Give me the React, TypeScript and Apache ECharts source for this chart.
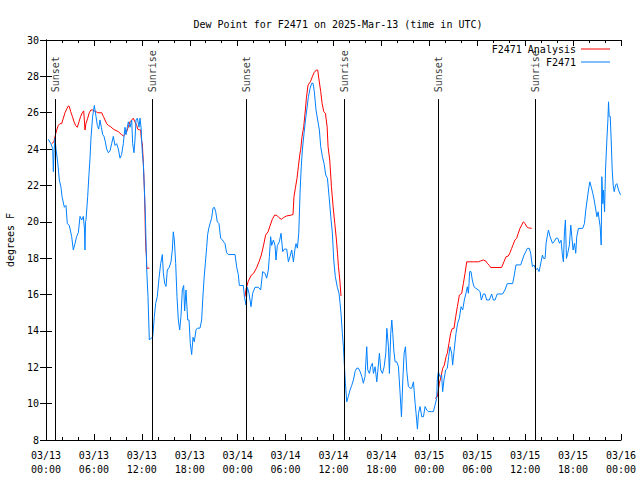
import React, { useEffect, useRef } from "react";
import * as echarts from "echarts";

// Hours since 03/13 00:00 UTC
const obsTimes = [
  0.29, 0.6, 0.84, 0.92, 1.0, 1.13, 1.25, 1.46, 1.67, 1.88, 2.0, 2.3, 2.5, 2.67, 2.92, 3.21, 3.42, 3.63, 3.84, 4.05,
  4.26, 4.47, 4.67, 4.82, 4.88, 4.95, 5.01, 5.22, 5.38, 5.51, 5.63, 5.84, 6.05, 6.26, 6.43, 6.6, 6.76, 6.93, 7.1, 7.26,
  7.43, 7.6, 7.81, 8.01, 8.22, 8.43, 8.64, 8.85, 9.06, 9.27, 9.47, 9.68, 9.89, 10.02, 10.18, 10.31, 10.52, 10.73, 10.85, 11.02,
  11.14, 11.27, 11.44, 11.65, 11.77, 11.9, 12.06, 12.19, 12.31, 12.44, 12.61, 12.77, 12.94, 13.15, 13.36, 13.57, 13.73, 13.94, 14.15, 14.36,
  14.57, 14.69, 14.86, 15.03, 15.19, 15.44, 15.65, 15.82, 15.94, 16.07, 16.24, 16.4, 16.57, 16.74, 16.9, 17.07, 17.24, 17.36, 17.53, 17.74,
  17.91, 18.07, 18.24, 18.41, 18.57, 18.78, 18.95, 19.28, 19.49, 19.62, 19.78, 19.95, 20.12, 20.24, 20.41, 20.54, 20.74, 20.91, 21.08, 21.25,
  21.45, 21.66, 21.87, 22.08, 22.41, 22.62, 22.83, 23.67, 23.88, 24.08, 24.21, 24.71, 24.84, 25.04, 25.21, 25.42, 25.67, 25.88, 26.17, 26.59,
  26.88, 27.13, 27.42, 27.63, 27.84, 27.97, 28.13, 28.26, 28.47, 28.68, 28.8, 28.97, 29.22, 29.43, 29.64, 29.85, 30.14, 30.35, 30.56, 30.77,
  30.98, 31.19, 31.31, 31.48, 31.65, 31.81, 31.94, 32.1, 32.31, 32.52, 32.65, 32.86, 33.07, 33.27, 33.44, 33.6, 33.81, 34.02, 34.23, 34.4,
  34.61, 34.82, 35.03, 35.24, 35.45, 35.66, 35.86, 36.03, 36.23, 36.48, 36.69, 36.82, 36.94, 37.11, 37.24, 37.36, 37.49, 37.66, 37.86, 38.07,
  38.28, 38.49, 38.7, 38.91, 39.12, 39.33, 39.54, 39.74, 39.95, 40.16, 40.29, 40.5, 40.66, 40.87, 41.0, 41.21, 41.42, 41.54, 41.75, 41.92,
  42.13, 42.34, 42.55, 42.68, 42.88, 43.0, 43.17, 43.3, 43.42, 43.55, 43.71, 43.92, 44.13, 44.34, 44.51, 44.68, 44.84, 45.01, 45.18, 45.38,
  45.59, 45.8, 46.01, 46.22, 46.34, 46.51, 46.64, 46.84, 47.05, 47.26, 47.47, 47.68, 47.88, 48.3, 48.51, 48.72, 48.92, 49.0, 49.13, 49.33,
  49.54, 49.67, 49.83, 50.04, 50.25, 50.42, 50.59, 50.8, 50.92, 51.09, 51.34, 51.55, 51.76, 51.97, 52.18, 52.38, 52.59, 52.76, 52.89, 52.97,
  53.05, 53.22, 53.38, 53.59, 53.8, 54.14, 54.35, 54.51, 54.76, 54.97, 55.18, 55.51, 55.8, 56.01, 56.22, 56.5, 57.17, 57.47, 57.76, 58.43,
  58.64, 58.85, 59.44, 59.65, 59.86, 60.07, 60.27, 60.52, 60.69, 60.9, 61.11, 61.32, 61.53, 61.74, 61.99, 62.16, 62.29, 62.5, 62.62, 62.79,
  62.92, 63.12, 63.42, 63.62, 63.87, 64.08, 64.29, 64.5, 64.66, 64.79, 64.92, 65.04, 65.17, 65.33, 65.54, 65.71, 65.84, 66.0, 66.17, 66.33,
  66.46, 66.67, 67.21, 67.42, 67.59, 67.76, 67.93, 68.1, 68.26, 68.47, 68.64, 68.85, 68.98, 69.14, 69.27, 69.39, 69.52, 69.6, 69.73, 69.81,
  69.94, 70.06, 70.23, 70.36, 70.44, 70.52, 70.65, 70.77, 70.9, 71.02, 71.15, 71.32, 71.48, 71.69, 71.94,
];
const obsValues = [
  24.54, 24.3, 24.04, 22.76, 23.8, 24.6, 24.0, 23.3, 22.3, 21.9, 21.4, 20.8, 20.9, 19.9, 19.8, 19.2, 18.45, 18.8, 19.2, 19.4,
  20.3, 20.1, 20.3, 19.6, 18.45, 20.0, 20.1, 21.4, 22.6, 23.5, 24.6, 25.8, 26.4, 25.8, 25.3, 25.1, 25.6, 25.2, 24.8, 24.7,
  24.4, 24.0, 23.8, 23.9, 24.3, 24.7, 24.2, 24.3, 24.0, 23.5, 23.7, 24.3, 25.2, 24.8, 25.2, 25.5, 25.2, 25.6, 24.3, 23.8,
  24.5, 25.6, 25.7, 25.2, 25.7, 25.2, 23.8, 23.2, 21.9, 20.4, 17.35, 15.9, 13.5, 13.6, 13.65, 14.8, 15.5, 15.9, 16.9, 17.7,
  18.2, 17.2, 16.6, 16.45, 17.35, 17.5, 17.8, 18.45, 19.45, 19.0, 17.7, 15.9, 14.6, 14.05, 14.8, 16.25, 16.5, 15.1, 16.25, 14.6,
  14.6, 13.3, 12.7, 13.65, 13.4, 14.05, 14.15, 14.15, 14.6, 15.7, 16.8, 17.7, 18.6, 19.3, 19.7, 19.9, 20.2, 20.75, 20.8, 20.55,
  20.0, 19.9, 19.1, 19.0, 18.8, 18.3, 18.2, 18.2, 17.5, 17.1, 16.5, 16.5, 15.9, 15.42, 16.4, 16.07, 15.33, 16.07, 16.4, 16.4,
  16.25, 17.26, 17.17, 16.9, 17.35, 18.08, 19.18, 18.7, 19.0, 18.7, 17.9, 18.7, 18.9, 19.37, 18.36, 18.5, 18.5, 17.8, 18.1, 18.45,
  17.8, 18.55, 18.8, 18.55, 19.37, 21.57, 22.85, 23.95, 24.87, 25.7, 26.15, 26.88, 27.34, 27.62, 27.62, 27.16, 26.15, 25.6, 25.05, 24.13,
  23.58, 23.2, 22.57, 22.4, 21.38, 20.28, 19.37, 17.9, 16.98, 16.4, 16.07, 15.52, 14.97, 13.87, 13.13, 12.12, 11.12, 10.1, 10.4, 10.75,
  11.0, 11.3, 11.76, 11.95, 11.95, 11.76, 11.5, 11.12, 11.5, 13.13, 11.85, 11.66, 12.03, 12.22, 11.66, 12.03, 11.2, 11.76, 12.77, 11.85,
  11.66, 12.03, 12.77, 14.14, 13.13, 11.66, 13.87, 14.6, 13.87, 12.95, 12.3, 12.3, 12.03, 10.57, 9.28, 11.3, 12.77, 13.13, 11.76, 10.94,
  10.85, 10.85, 11.2, 10.02, 9.47, 8.6, 9.47, 9.84, 9.28, 9.28, 9.84, 9.65, 9.56, 9.56, 9.56, 9.93, 10.29, 11.3, 11.76, 11.48,
  11.57, 10.66, 11.3, 11.85, 11.94, 12.58, 13.13, 12.77, 12.12, 12.86, 13.87, 14.42, 14.7, 15.33, 15.15, 15.7, 16.07, 16.43, 16.07, 16.6,
  17.26, 17.26, 16.8, 16.43, 16.35, 16.25, 16.16, 15.7, 16.03, 16.03, 15.7, 15.7, 16.03, 15.7, 15.7, 16.03, 16.03, 16.25, 16.6, 16.6,
  17.07, 17.63, 17.63, 17.9, 18.17, 18.35, 18.54, 18.54, 18.27, 17.54, 17.63, 17.35, 17.45, 17.26, 17.8, 18.17, 17.99, 17.99, 18.82, 19.27,
  19.55, 19.18, 18.82, 18.9, 19.1, 19.1, 18.82, 18.99, 18.17, 17.8, 19.45, 20.1, 17.99, 18.27, 18.73, 19.82, 19.18, 18.45, 18.82, 18.27,
  19.18, 19.64, 19.64, 19.91, 20.65, 21.2, 21.75, 22.2, 21.94, 21.57, 21.2, 20.65, 20.28, 20.55, 20.1, 19.73, 18.73, 22.48, 21.0, 21.75,
  20.55, 22.85, 24.5, 25.6, 26.6, 25.8, 25.8, 24.5, 22.85, 22.02, 21.66, 22.02, 22.1, 21.75, 21.48,
];

// Analysis: three nightly runs, separated by gaps (null)
const anaTimes = [
  0.71, 0.99, 1.13, 1.34, 1.54, 1.75, 1.96, 2.17, 2.38, 2.59, 2.8, 2.92, 3.09, 3.3, 3.51, 3.71, 3.92, 4.13, 4.34, 4.55,
  4.72, 4.8, 4.88, 5.0, 5.22, 5.42, 5.63, 5.84, 6.05, 6.26, 6.47, 6.76, 6.97, 7.18, 7.39, 7.6, 7.81, 8.1, 8.43, 8.76,
  9.06, 9.27, 9.47, 9.68, 9.89, 10.1, 10.31, 10.52, 10.73, 10.93, 11.14, 11.35, 11.48, 11.69, 11.85, 11.98, 12.06, 12.19, 12.31, 12.4,
  12.44, 12.5, 12.58, 12.62, 12.94,
  18,
  24.92, 25.05, 25.3, 25.71, 26.0, 26.34, 26.67, 26.96, 27.25, 27.5, 27.8, 28.09, 28.34, 28.63, 28.92, 29.17, 29.46, 29.75, 30.09, 30.72,
  30.93, 31.05, 31.22, 31.43, 31.6, 31.77, 31.89, 32.06, 32.27, 32.48, 32.6, 32.81, 33.1, 33.35, 33.56, 33.85, 34.02, 34.19, 34.4, 34.57,
  34.78, 34.99, 35.2, 35.32, 35.53, 35.74, 35.95, 36.16, 36.37, 36.5, 36.62, 36.79, 36.94,
  42,
  48.72, 49.0, 49.25, 49.46, 49.67, 49.88, 50.09, 50.25, 50.46, 50.67, 50.88, 51.09, 51.3, 51.51, 51.76, 52.05, 52.26, 52.47, 52.68, 53.51,
  54.14, 54.43, 54.76, 55.05, 55.26, 55.51, 55.68, 57.05, 57.34, 57.6, 57.89, 58.1, 58.31, 58.51, 58.72, 58.93, 59.14, 59.35, 59.56, 59.77,
  59.98, 60.19, 60.4, 60.82,
];
const anaValues: (number | null)[] = [
  24.3, 24.4, 24.7, 25.05, 25.3, 25.4, 25.4, 25.7, 26.0, 26.2, 26.37, 26.35, 26.06, 25.8, 25.5, 25.3, 25.2, 25.5, 25.8, 26.0,
  26.1, 25.6, 25.05, 25.4, 25.7, 26.0, 26.15, 26.15, 26.1, 26.06, 26.0, 26.0, 26.0, 25.8, 25.6, 25.4, 25.3, 25.23, 25.1, 25.02,
  24.96, 24.87, 24.8, 24.72, 24.8, 24.96, 25.23, 25.5, 25.6, 25.7, 25.5, 25.3, 25.1, 25.06, 25.05, 24.4, 24.3, 23.2, 21.9, 20.5,
  19.4, 18.6, 18.1, 17.45, 17.45,
  null,
  15.88, 16.3, 16.7, 17.07, 17.17, 17.44, 17.8, 18.17, 18.72, 19.27, 19.45, 19.82, 20.14, 20.37, 20.35, 20.23, 20.14, 20.23, 20.32, 20.37,
  20.4, 21.38, 21.84, 22.39, 23.03, 23.67, 23.97, 24.68, 25.23, 26.15, 26.79, 27.52, 27.7, 27.98, 28.2, 28.35, 28.35, 27.8, 27.16, 26.52,
  26.06, 25.97, 25.23, 24.13, 23.4, 21.94, 20.84, 19.92, 19.0, 18.27, 17.54, 16.8, 15.92,
  null,
  10.29, 10.38, 11.11, 11.48, 11.94, 12.12, 12.58, 12.77, 13.32, 13.87, 14.14, 14.14, 14.78, 15.33, 15.97, 16.06, 16.6, 17.17, 17.8, 17.8,
  17.8, 17.85, 17.9, 17.85, 17.72, 17.6, 17.49, 17.49, 17.8, 18.08, 18.12, 18.3, 18.54, 18.77, 19.0, 19.09, 19.37, 19.64, 19.82, 20.0,
  19.91, 19.73, 19.67, 19.64,
];

const eventTimes = [1.165, 13.31, 25.08, 37.36, 49.13, 61.27];
const eventLabels = ["Sunset", "Sunrise", "Sunset", "Sunrise", "Sunset", "Sunrise"];

const seriesNames = ["F2471 Analysis", "F2471"];
const titleText = "Dew Point for F2471 on 2025-Mar-13 (time in UTC)";
const yName = "degrees F";
const month = "03";
const startDay = 13;

const Y_MIN = 8;
const Y_MAX = 30;
const LINE_TOP = 26.75;
const LABEL_BASE = 27.12;
const FONT = "DejaVu Sans Mono";
const LEGEND_ICON =
  "path://M0,0L0.01,0L0.01,0.01L0,0.01ZM0,4.5L30,4.5L30,5.5L0,5.5ZM29.99,9.99L30,9.99L30,10L29.99,10Z";

function pad(n: number) {
  return n < 10 ? "0" + n : String(n);
}

export default function App() {
  const ref = useRef<HTMLDivElement>(null);
  useEffect(() => {
    document.body.style.margin = "0";
    const chart = echarts.init(ref.current!, null, { renderer: "svg" });
    const tickCommon = {
      axisLine: { show: true, lineStyle: { color: "#000", width: 1 } },
      axisTick: { show: true, inside: true, length: 6, lineStyle: { color: "#000", width: 1 } },
      splitLine: { show: false },
    };
    const xFmt = (v: number) => {
      const d = startDay + Math.floor(v / 24);
      const h = Math.round(v % 24);
      return month + "/" + d + "\n" + pad(h) + ":00";
    };
    chart.setOption({
      animation: false,
      backgroundColor: "#ffffff",
      title: {
        text: titleText,
        left: 333,
        textAlign: "center",
        top: 14,
        textStyle: { fontFamily: FONT, fontSize: 10, fontWeight: "normal", color: "#000" },
      },
      legend: {
        data: seriesNames,
        orient: "vertical",
        right: 30,
        top: 44,
        align: "right",
        icon: LEGEND_ICON,
        itemWidth: 29,
        itemHeight: 10,
        itemGap: 3,
        padding: 0,
        textStyle: { fontFamily: FONT, fontSize: 10, color: "#000" },
      },
      grid: { left: 46, right: 19, top: 40, bottom: 40, containLabel: false, outerBoundsMode: "none" },
      xAxis: [
        {
          type: "value",
          min: 0,
          max: 72,
          interval: 6,
          position: "bottom",
          ...tickCommon,
          minorTick: { show: true, splitNumber: 3, length: 3, lineStyle: { color: "#000", width: 1 } },
          axisLabel: {
            formatter: xFmt,
            fontFamily: FONT,
            fontSize: 10,
            color: "#000",
            lineHeight: 14,
            margin: 8,
            showMinLabel: true,
            showMaxLabel: true,
          },
        },
        {
          type: "value",
          min: 0,
          max: 72,
          interval: 6,
          position: "top",
          ...tickCommon,
          minorTick: { show: true, splitNumber: 3, length: 3, lineStyle: { color: "#000", width: 1 } },
          axisLabel: { show: false },
        },
      ],
      yAxis: [
        {
          type: "value",
          min: Y_MIN,
          max: Y_MAX,
          interval: 2,
          position: "left",
          ...tickCommon,
          name: yName,
          nameLocation: "middle",
          nameGap: 31,
          nameTextStyle: { fontFamily: FONT, fontSize: 10, color: "#000" },
          axisLabel: { fontFamily: FONT, fontSize: 10, color: "#000", margin: 7 },
        },
        {
          type: "value",
          min: Y_MIN,
          max: Y_MAX,
          interval: 2,
          position: "right",
          ...tickCommon,
          axisLabel: { show: false },
        },
      ],
      series: [
        {
          name: seriesNames[0],
          type: "line",
          data: anaTimes.map((t, i) => [t, anaValues[i] === null ? "-" : anaValues[i]]),
          symbol: "none",
          showSymbol: false,
          connectNulls: false,
          lineStyle: { color: "#ff0000", width: 1 },
          itemStyle: { color: "#ff0000" },
          z: 2,
        },
        {
          name: seriesNames[1],
          type: "line",
          data: obsTimes.map((t, i) => [t, obsValues[i]]),
          symbol: "none",
          showSymbol: false,
          lineStyle: { color: "#0080ff", width: 1 },
          itemStyle: { color: "#0080ff" },
          z: 3,
        },
        {
          name: "events",
          type: "scatter",
          data: eventTimes.map((t) => [t, LABEL_BASE]),
          symbolSize: 0,
          silent: true,
          label: {
            show: true,
            position: [0, 0],
            rotate: 90,
            align: "left",
            verticalAlign: "middle",
            formatter: (p: any) => eventLabels[p.dataIndex],
            fontFamily: FONT,
            fontSize: 10,
            color: "#000",
          },
          markLine: {
            silent: true,
            symbol: ["none", "none"],
            label: { show: false },
            lineStyle: { color: "#000", width: 1, type: "solid" },
            data: eventTimes.map((t) => [{ coord: [t, Y_MIN] }, { coord: [t, LINE_TOP] }]),
          },
          z: 4,
        },
      ],
    });
    return () => chart.dispose();
  }, []);
  return (
    <div
      ref={ref}
      style={{ position: "absolute", left: 0, top: 0, width: 640, height: 480, background: "#fff" }}
    />
  );
}
